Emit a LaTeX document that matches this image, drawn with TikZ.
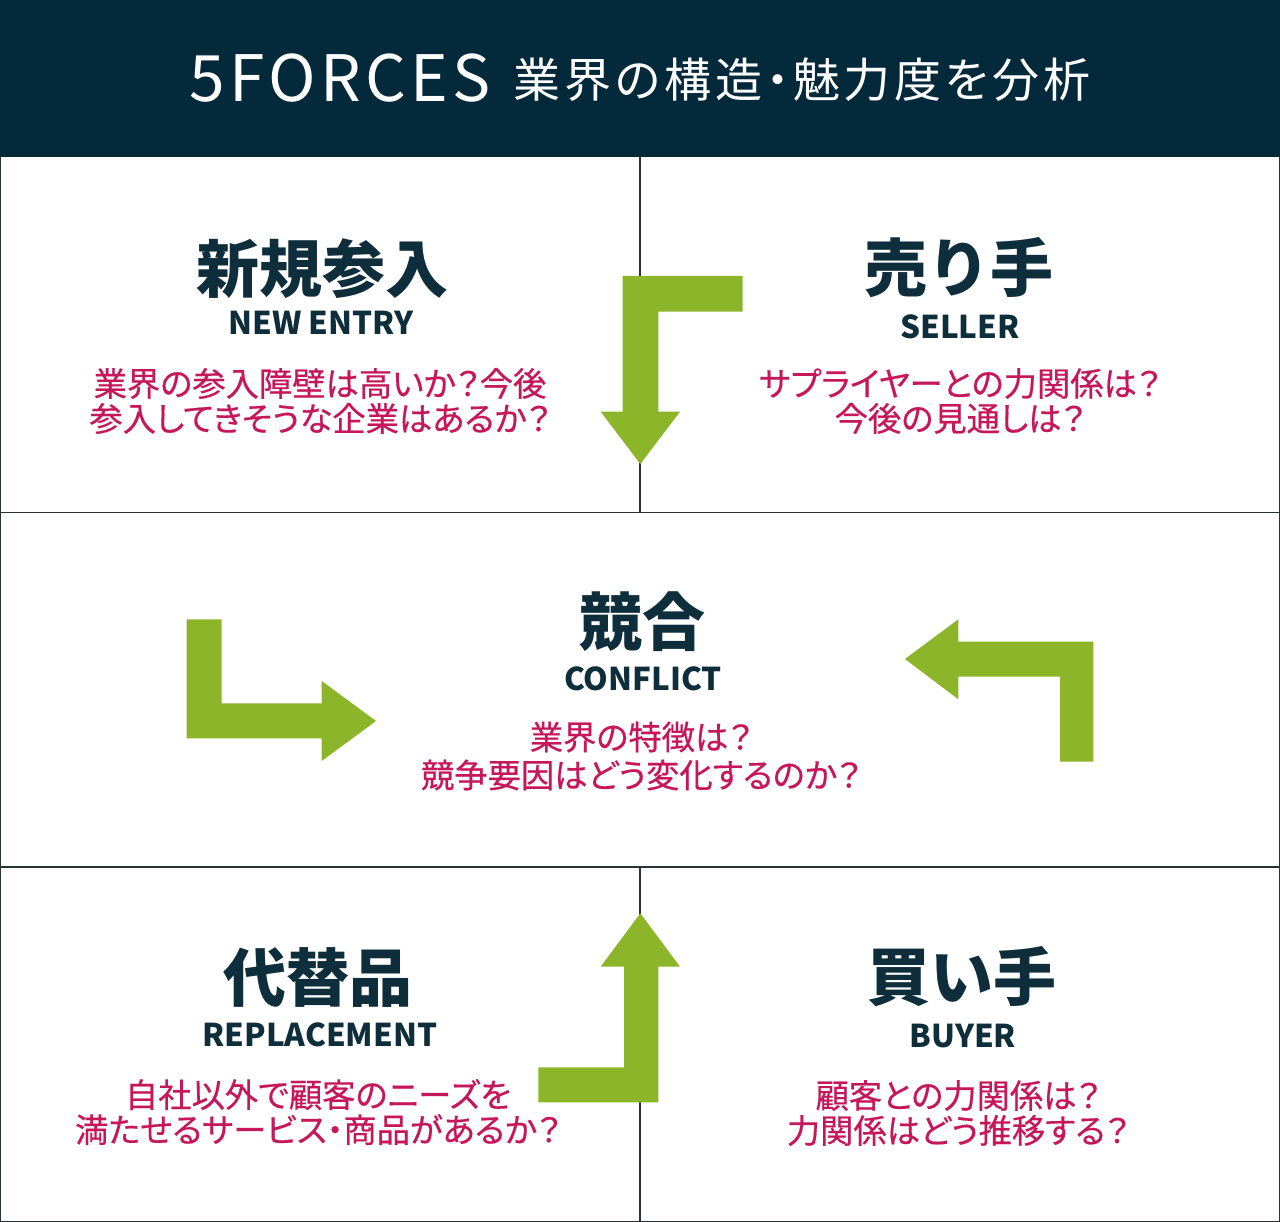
\documentclass[tikz,border=0pt]{standalone}
\usepackage{fontspec}
\newfontfamily\jp{Noto Sans CJK JP}
\newfontfamily\jphd{Noto Sans CJK JP}[LetterSpace=7]
\newfontfamily\jphdj{Noto Sans CJK JP}[RawFeature=+palt, LetterSpace=8]
\newfontfamily\jpq{Noto Sans CJK JP}[RawFeature=+palt, FakeBold=0.5]
\definecolor{headc}{HTML}{03293A}
\definecolor{titlec}{HTML}{0E2E3C}
\definecolor{pinkc}{HTML}{C7175B}
\definecolor{greenc}{HTML}{8CB52A}
\definecolor{linec}{HTML}{2B3236}
\tikzset{
  ttl/.style={font=\jp\bfseries\fontsize{63}{63}\selectfont, text=titlec, inner sep=0pt},
  sub/.style={font=\jp\bfseries\fontsize{31.4}{31.4}\selectfont, text=titlec, inner sep=0pt},
  qq/.style={font=\jpq\fontsize{33.3}{35}\selectfont, text=pinkc, align=center, inner sep=0pt},
  garrow/.style={fill=greenc, draw=none},
  gridline/.style={draw=linec, line width=1.2pt},
}
\begin{document}
\begin{tikzpicture}[x=1pt,y=-1pt]
\useasboundingbox (0,0) rectangle (1280,1222);
\fill[white] (0,0) rectangle (1280,1222);
% header
\fill[headc] (0,0) rectangle (1280,157.5);
\node[font=\jphd\fontsize{64}{64}\selectfont, text=white, inner sep=0pt] (hd1) at (340,78) {5FORCES};
\node[font=\jphdj\fontsize{47}{47}\selectfont, text=white, inner sep=0pt] (hd2) at (802,80) {業界の構造・魅力度を分析};
% grid
\draw[gridline] (0.6,157.5) -- (0.6,1221.4) -- (1279.4,1221.4) -- (1279.4,157.5);
\draw[gridline] (0,512.5) -- (1280,512.5);
\draw[gridline] (0,867) -- (1280,867);
\draw[gridline] (640,157.5) -- (640,512.5);
\draw[gridline] (640,867) -- (640,1222);
% arrows
\fill[garrow] (742.7,276) -- (622.7,276) -- (622.7,411.7) -- (600.7,411.7) -- (640.3,464) -- (680,411.7) -- (658.3,411.7) -- (658.3,311.7) -- (742.7,311.7) -- cycle;
\fill[garrow] (186.7,619.3) -- (221.7,619.3) -- (221.7,703.3) -- (321.7,703.3) -- (321.7,681) -- (376,721) -- (321.7,761) -- (321.7,738.3) -- (186.7,738.3) -- cycle;
\fill[garrow] (538.3,1067.3) -- (624,1067.3) -- (624,966.7) -- (600.7,966.7) -- (640.3,913.3) -- (680,966.7) -- (658.3,966.7) -- (658.3,1102.3) -- (538.3,1102.3) -- cycle;
\fill[garrow] (1093.3,761.7) -- (1060,761.7) -- (1060,676.7) -- (958.3,676.7) -- (958.3,699.3) -- (905,659) -- (958.3,619.3) -- (958.3,641.7) -- (1093.3,641.7) -- cycle;
% new entry
\node[ttl] (ne) at (322,269) {新規参入};
\node[sub] (nes) at (321,323) {NEW ENTRY};
\node[qq] (neq) at (320,401) {業界の参入障壁は高いか？今後\\参入してきそうな企業はあるか？};
% seller
\node[ttl] (se) at (959,268) {売り手};
\node[sub] (ses) at (960,327) {SELLER};
\node[qq] (seq) at (960,401) {サプライヤーとの力関係は？\\今後の見通しは？};
% conflict
\node[ttl] (co) at (642,622) {競合};
\node[sub] (cos) at (643,679) {CONFLICT};
\node[qq, font=\jpq\fontsize{33.3}{38}\selectfont] (coq) at (641,756) {業界の特徴は？\\競争要因はどう変化するのか？};
% replacement
\node[ttl] (re) at (318,978) {代替品};
\node[sub] (res) at (320,1035) {REPLACEMENT};
\node[qq] (req) at (318,1112) {自社以外で顧客のニーズを\\満たせるサービス・商品があるか？};
% buyer
\node[ttl] (bu) at (962,977) {買い手};
\node[sub] (bus) at (963,1036) {BUYER};
\node[qq] (buq) at (958,1113) {顧客との力関係は？\\力関係はどう推移する？};
\end{tikzpicture}
\end{document}
